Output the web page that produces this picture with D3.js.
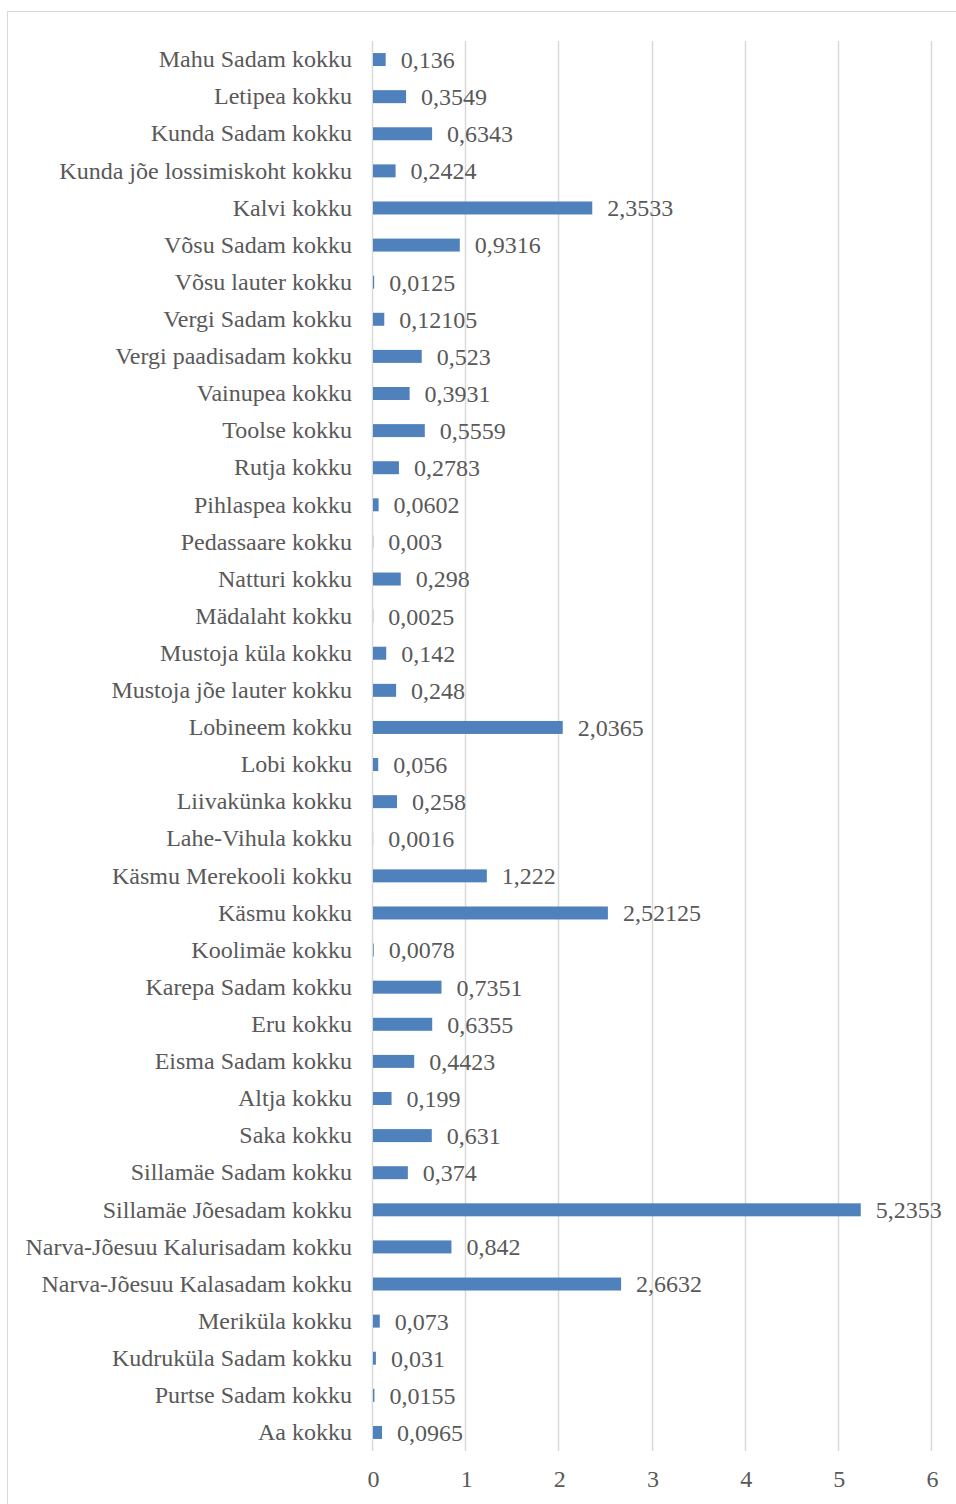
<!DOCTYPE html>
<html>
<head>
<meta charset="utf-8">
<script src="https://cdn.jsdelivr.net/npm/d3@7"></script>
<style>
  body { margin: 0; background: #fff; }
</style>
</head>
<body>
<div id="chart"></div>
<script>
// categories, top to bottom
let places = [
  "Mahu Sadam kokku", "Letipea kokku", "Kunda Sadam kokku", "Kunda jõe lossimiskoht kokku",
  "Kalvi kokku", "Võsu Sadam kokku", "Võsu lauter kokku", "Vergi Sadam kokku",
  "Vergi paadisadam kokku", "Vainupea kokku", "Toolse kokku", "Rutja kokku",
  "Pihlaspea kokku", "Pedassaare kokku", "Natturi kokku", "Mädalaht kokku",
  "Mustoja küla kokku", "Mustoja jõe lauter kokku", "Lobineem kokku", "Lobi kokku",
  "Liivakünka kokku", "Lahe-Vihula kokku", "Käsmu Merekooli kokku", "Käsmu kokku",
  "Koolimäe kokku", "Karepa Sadam kokku", "Eru kokku", "Eisma Sadam kokku",
  "Altja kokku", "Saka kokku", "Sillamäe Sadam kokku", "Sillamäe Jõesadam kokku",
  "Narva-Jõesuu Kalurisadam kokku", "Narva-Jõesuu Kalasadam kokku", "Meriküla kokku",
  "Kudruküla Sadam kokku", "Purtse Sadam kokku", "Aa kokku"
];

let amounts = [
  0.136, 0.3549, 0.6343, 0.2424,
  2.3533, 0.9316, 0.0125, 0.12105,
  0.523, 0.3931, 0.5559, 0.2783,
  0.0602, 0.003, 0.298, 0.0025,
  0.142, 0.248, 2.0365, 0.056,
  0.258, 0.0016, 1.222, 2.52125,
  0.0078, 0.7351, 0.6355, 0.4423,
  0.199, 0.631, 0.374, 5.2353,
  0.842, 2.6632, 0.073,
  0.031, 0.0155, 0.0965
];

let xTicks = [0, 1, 2, 3, 4, 5, 6];

let svgWidth = 956;
let svgHeight = 1504;
let serif = "Liberation Serif";
let textColor = "#595959";

let margin = { top: 41, left: 373 };

let svg = d3.select("#chart")
  .append("svg")
  .attr("width", svgWidth)
  .attr("height", svgHeight)
  .attr("font-family", serif);

// outer chart border (runs off the page on right and bottom)
svg.append("rect")
  .attr("x", 7.5)
  .attr("y", 11.5)
  .attr("width", 1200)
  .attr("height", 1800)
  .attr("fill", "none")
  .attr("stroke", "#d9d9d9");

let chartGroup = svg.append("g")
  .attr("transform", `translate(${margin.left}, ${margin.top})`);

let x = d3.scaleLinear().domain([0, 6]).range([0, 559]);
let y = d3.scaleBand().domain(places).range([0, 1410]).paddingInner(0.65).paddingOuter(0.325);

// gridlines
chartGroup.append("g")
  .selectAll("line")
  .data(xTicks)
  .enter()
  .append("line")
  .attr("x1", d => Math.round(x(d)) - 0.5)
  .attr("x2", d => Math.round(x(d)) - 0.5)
  .attr("y1", 0)
  .attr("y2", 1410)
  .attr("stroke", "#d9d9d9")
  .attr("stroke-width", 1.5);

// bars
chartGroup.append("g")
  .selectAll("rect")
  .data(places)
  .enter()
  .append("rect")
  .attr("x", x(0))
  .attr("y", d => y(d))
  .attr("width", (d, i) => x(amounts[i]) - x(0))
  .attr("height", y.bandwidth())
  .attr("fill", "#4f81bd");

// value labels
chartGroup.append("g")
  .selectAll("text")
  .data(places)
  .enter()
  .append("text")
  .attr("x", (d, i) => x(amounts[i]) + 15)
  .attr("y", d => y(d) + y.bandwidth() / 2)
  .attr("dy", "0.35em")
  .attr("font-size", 24)
  .attr("font-family", serif)
  .style("font-family", `"${serif}"`)
  .attr("fill", textColor)
  .text((d, i) => String(amounts[i]).replace(".", ","));

// category axis
let leftAxis = d3.axisLeft(y).tickSize(0).tickPadding(21);
let yAxis = chartGroup.append("g").call(leftAxis);
yAxis.select(".domain").remove();
yAxis.attr("font-family", serif).attr("font-size", 24);
yAxis.selectAll("text")
  .attr("fill", textColor)
  .attr("font-family", serif)
  .style("font-family", `"${serif}"`);

// value axis
let bottomAxis = d3.axisBottom(x).tickValues(xTicks).tickSize(0).tickPadding(19).tickFormat(d3.format("d"));
let xAxis = chartGroup.append("g")
  .attr("transform", `translate(0, 1410)`)
  .call(bottomAxis);
xAxis.select(".domain").remove();
xAxis.attr("font-family", serif).attr("font-size", 24);
xAxis.selectAll("text")
  .attr("fill", textColor)
  .attr("font-family", serif)
  .style("font-family", `"${serif}"`);
</script>
</body>
</html>
